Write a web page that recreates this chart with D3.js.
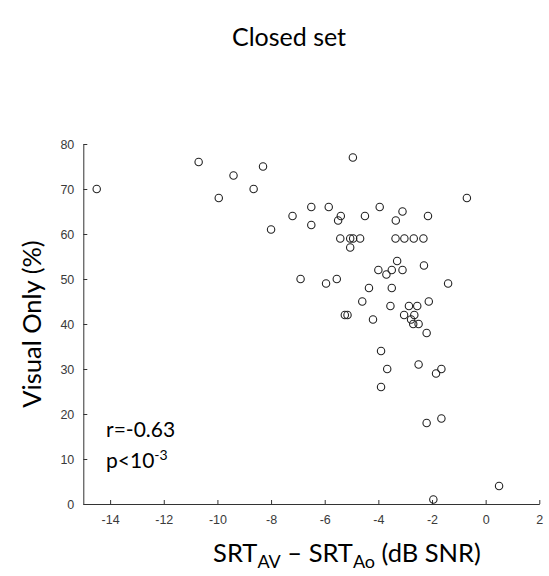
<!DOCTYPE html>
<html>
<head>
<meta charset="utf-8">
<script src="https://cdn.jsdelivr.net/npm/d3@7"></script>
<style>
  html, body { margin: 0; padding: 0; background: #fff; }
  svg { display: block; }
</style>
</head>
<body>
<svg id="chart" width="549" height="576"></svg>
<script>
// SRT difference (AV minus audio-only, dB SNR) per listener
const srtDiff = [
  -14.5, -10.7, -9.4, -9.95, -8.3, -8.65, -4.95, -6.5, -5.85, -7.2,
  -5.4, -5.5, -4.5, -3.95, -6.5, -8.0, -5.42, -5.05, -4.94, -4.68,
  -5.05, -4.0, -3.7, -6.9, -5.95, -5.55, -4.35, -0.7, -3.1, -3.35,
  -2.15, -3.36, -3.03, -2.68, -2.32, -3.3, -2.3, -3.5, -3.1, -3.5,
  -1.4, -4.6, -5.25, -5.15, -4.2, -3.55, -2.86, -2.55, -2.12, -3.04,
  -2.66, -2.78, -2.7, -2.5, -2.2, -3.9, -3.67, -3.9, -2.5, -1.85,
  -1.65, -2.2, -1.65, 0.5, -1.95
];
// Visual-only score (%) for the same listeners
const visualOnly = [
  70, 76, 73, 68, 75, 70, 77, 66, 66, 64,
  64, 63, 64, 66, 62, 61, 59, 59, 59, 59,
  57, 52, 51, 50, 49, 50, 48, 68, 65, 63,
  64, 59, 59, 59, 59, 54, 53, 52, 52, 48,
  49, 45, 42, 42, 41, 44, 44, 44, 45, 42,
  42, 41, 40, 40, 38, 34, 30, 26, 31, 29,
  30, 18, 19, 4, 1
];
const xTicks = [-14, -12, -10, -8, -6, -4, -2, 0, 2];
const yTicks = [0, 10, 20, 30, 40, 50, 60, 70, 80];
const xDomain = [-15, 2];
const yDomain = [0, 80];

const svg = d3.select("#chart");
const plotLeft = 83.3, plotRight = 539.3, plotTop = 144, plotBottom = 504;

const x = d3.scaleLinear().domain(xDomain).range([plotLeft, plotRight]);
const y = d3.scaleLinear().domain(yDomain).range([plotBottom, plotTop]);

const axisColor = "#333";
const tickFont = "'Liberation Sans', Arial, sans-serif";
const labelFont = "Lato, 'Open Sans', sans-serif";

// x axis, ticks pointing inward
const gx = svg.append("g")
  .attr("transform", `translate(0,${plotBottom})`)
  .call(d3.axisBottom(x).tickValues(xTicks).tickSizeInner(-4).tickSizeOuter(0).tickPadding(11)
    .tickFormat(d => String(d)));
gx.select(".domain").attr("stroke", axisColor).attr("stroke-width", 1);
gx.selectAll(".tick line").attr("stroke", axisColor);
gx.selectAll(".tick text").attr("fill", "#3a3a3a")
  .style("font-family", tickFont).style("font-size", "12.5px");

// y axis, ticks pointing inward
const gy = svg.append("g")
  .attr("transform", `translate(${plotLeft},0)`)
  .call(d3.axisLeft(y).tickValues(yTicks).tickSizeInner(-4).tickSizeOuter(0).tickPadding(9)
    .tickFormat(d => String(d)));
gy.select(".domain").attr("stroke", axisColor).attr("stroke-width", 1);
gy.selectAll(".tick line").attr("stroke", axisColor);
gy.selectAll(".tick text").attr("fill", "#3a3a3a")
  .style("font-family", tickFont).style("font-size", "12.5px");

// open circle markers
svg.append("g")
  .selectAll("circle")
  .data(srtDiff.map((v, i) => [v, visualOnly[i]]))
  .join("circle")
  .attr("cx", d => x(d[0]))
  .attr("cy", d => y(d[1]))
  .attr("r", 3.7)
  .attr("fill", "none")
  .attr("stroke", "#222")
  .attr("stroke-width", 1.1);

// title
svg.append("text")
  .attr("x", 289).attr("y", 46)
  .attr("text-anchor", "middle")
  .style("font-family", labelFont).style("font-size", "25px")
  .attr("fill", "#000")
  .text("Closed set");

// x axis label with subscripts
const xl = svg.append("text")
  .attr("x", 347).attr("y", 562)
  .attr("text-anchor", "middle")
  .style("font-family", labelFont).style("font-size", "25.5px")
  .attr("fill", "#000");
xl.append("tspan").text("SRT");
xl.append("tspan").attr("dy", 6).style("font-size", "18px").text("AV");
xl.append("tspan").attr("dy", -6).text(" – SRT");
xl.append("tspan").attr("dy", 6).style("font-size", "18px").text("Ao");
xl.append("tspan").attr("dy", -6).text(" (dB SNR)");

// y axis label
svg.append("text")
  .attr("transform", "translate(41,324) rotate(-90)")
  .attr("text-anchor", "middle")
  .style("font-family", labelFont).style("font-size", "25.5px")
  .attr("fill", "#000")
  .text("Visual Only (%)");

// correlation annotation
svg.append("text")
  .attr("x", 106).attr("y", 437)
  .style("font-family", labelFont).style("font-size", "21px")
  .attr("fill", "#000")
  .text("r=-0.63");
const pt = svg.append("text")
  .attr("x", 106).attr("y", 468)
  .style("font-family", labelFont).style("font-size", "21px")
  .attr("fill", "#000");
pt.append("tspan").text("p<10");
pt.append("tspan").attr("dy", -8).style("font-size", "14px").text("-3");
</script>
</body>
</html>
